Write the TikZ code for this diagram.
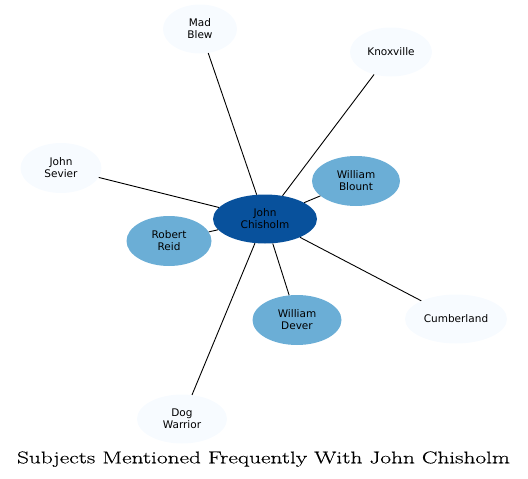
\documentclass[tikz,border=0pt]{standalone}
\usepackage{fontspec}
\setmainfont{DejaVu Sans}
\newfontfamily\titlefont[FakeStretch=1.37,FakeBold=0.4]{Latin Modern Roman}
\usetikzlibrary{shapes.geometric}
\definecolor{cdark}{HTML}{08519C}
\definecolor{cmid}{HTML}{6BAED6}
\definecolor{clight}{HTML}{F7FBFF}
\tikzset{
  bub/.style={ellipse, inner sep=0pt, align=center, font=\fontsize{10.5}{12}\selectfont, text=black},
  hub/.style={bub, fill=cdark},
  midn/.style={bub, fill=cmid},
  lightn/.style={bub, fill=clight},
  link/.style={draw=black, line width=0.9pt},
}
\begin{document}
\begin{tikzpicture}[x=1pt, y=-1pt]
\useasboundingbox (0,0) rectangle (528,479);
\node[hub, minimum width=104pt, minimum height=49pt] (jc) at (265,219) {John\\Chisholm};
\node[midn, minimum width=88pt, minimum height=50pt] (wb) at (356,181) {William\\Blount};
\node[midn, minimum width=85pt, minimum height=50pt] (rr) at (169,241) {Robert\\Reid};
\node[midn, minimum width=89pt, minimum height=50pt] (wd) at (297,320) {William\\Dever};
\node[lightn, minimum width=74pt, minimum height=49pt] (mb) at (200,29) {Mad\\Blew};
\node[lightn, minimum width=82pt, minimum height=49pt] (kx) at (391,52) {Knoxville};
\node[lightn, minimum width=81pt, minimum height=50pt] (js) at (61,168) {John\\Sevier};
\node[lightn, minimum width=102pt, minimum height=49pt] (cb) at (456,319) {Cumberland};
\node[lightn, minimum width=90pt, minimum height=49pt] (dw) at (182,419) {Dog\\Warrior};
\foreach \t in {wb,rr,wd,mb,kx,js,cb,dw} \draw[link] (jc) -- (\t);
\node[anchor=base, inner sep=0pt, font=\titlefont\fontsize{17}{20}\selectfont] (title) at (263.5,463.3) {Subjects Mentioned Frequently With John Chisholm};
\end{tikzpicture}
\end{document}
